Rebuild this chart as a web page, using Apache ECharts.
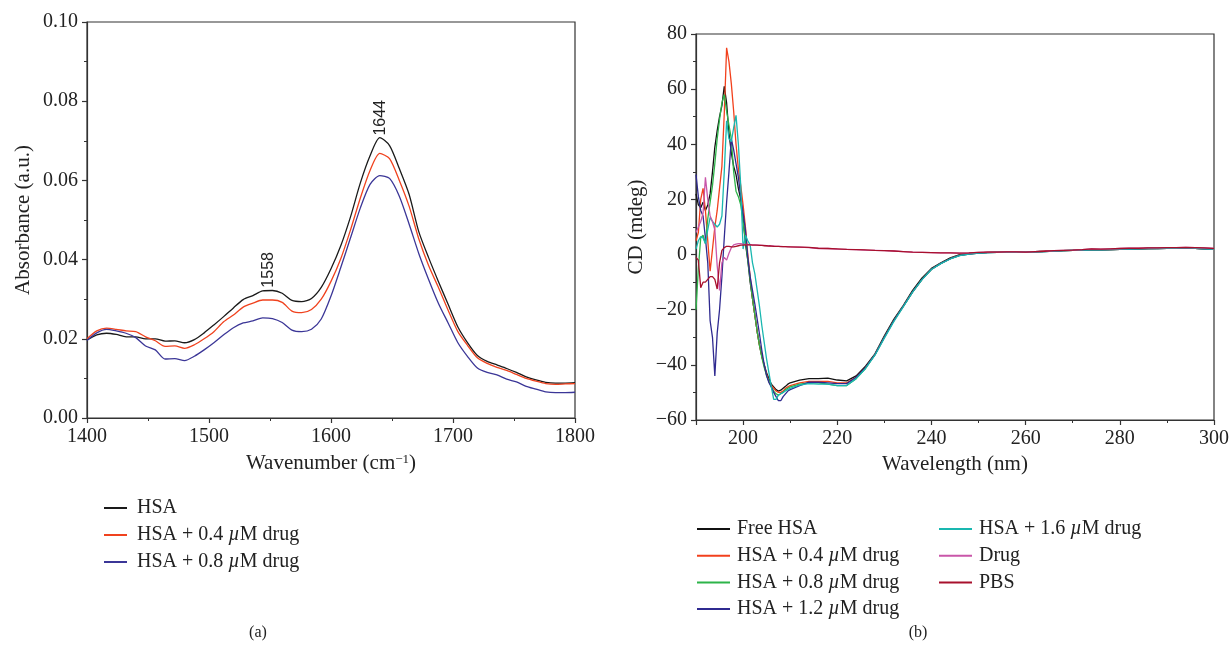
<!DOCTYPE html>
<html>
<head>
<meta charset="UTF-8">
<title>FTIR and CD spectra</title>
<script src="https://cdn.jsdelivr.net/npm/echarts@6/dist/echarts.min.js"></script>
<style>
html,body{margin:0;padding:0;background:#fff;}
#chart{width:1232px;height:648px;}
</style>
</head>
<body>
<div id="chart"></div>
<script type="text/javascript">
// (a) FTIR, amide region
var ftirWavenumber = [1400,1408,1416,1424,1432,1440,1448,1456,1464,1472,1480,1488,1496,1504,1512,1520,1528,1536,1544,1552,1560,1568,1576,1584,1592,1600,1608,1616,1624,1632,1640,1648,1656,1664,1672,1680,1688,1696,1704,1712,1720,1728,1736,1744,1752,1760,1768,1776,1784,1792,1800];
var ftirHSA = [0.0197,0.0210,0.0214,0.0211,0.0205,0.0205,0.0200,0.0200,0.0194,0.0195,0.0190,0.0198,0.0215,0.0235,0.0256,0.0278,0.0299,0.0309,0.0321,0.0322,0.0315,0.0297,0.0294,0.0302,0.0330,0.0377,0.0435,0.0508,0.0593,0.0662,0.0708,0.0688,0.0630,0.0565,0.0470,0.0405,0.0345,0.0287,0.0230,0.0190,0.0158,0.0143,0.0134,0.0125,0.0115,0.0104,0.0096,0.0090,0.0088,0.0088,0.0089];
var ftirHSA04 = [0.0200,0.0220,0.0227,0.0224,0.0220,0.0218,0.0205,0.0195,0.0181,0.0182,0.0176,0.0185,0.0200,0.0218,0.0243,0.0260,0.0280,0.0290,0.0298,0.0298,0.0292,0.0270,0.0266,0.0274,0.0300,0.0345,0.0402,0.0475,0.0555,0.0625,0.0668,0.0655,0.0600,0.0535,0.0452,0.0385,0.0330,0.0272,0.0218,0.0183,0.0152,0.0138,0.0128,0.0120,0.0110,0.0100,0.0093,0.0087,0.0085,0.0086,0.0087];
var ftirHSA08 = [0.0196,0.0215,0.0224,0.0220,0.0214,0.0203,0.0182,0.0172,0.0149,0.0150,0.0145,0.0156,0.0172,0.0190,0.0210,0.0228,0.0240,0.0245,0.0253,0.0251,0.0241,0.0222,0.0218,0.0224,0.0250,0.0308,0.0380,0.0455,0.0530,0.0590,0.0612,0.0605,0.0560,0.0490,0.0415,0.0350,0.0290,0.0240,0.0190,0.0155,0.0126,0.0115,0.0109,0.0098,0.0091,0.0080,0.0073,0.0066,0.0064,0.0064,0.0065];
var ftirPeakText = ['1558','1644'];
var ftirPeakX = [1549,1641];

// (b) CD spectra
var cdWavelength = [190,190.5,191,191.5,192,192.5,193,193.5,194,194.5,195,195.5,196,196.5,197,197.5,198,198.5,199,199.5,200,200.5,201,201.5,202,202.5,203,203.5,204,204.5,205,205.5,206,206.5,207,207.5,208,208.5,209,209.5,210,
  212,214,216,218,220,222,224,226,228,230,232,234,236,238,240,242,244,246,248,250,252,254,256,258,260,262,264,266,268,270,272,274,276,278,280,282,284,286,288,290,292,294,296,298,300];
var cdFreeHSA = [22,18,17,19,16,18,22,30,39,45,50,54,61,55,44,37,32,29,24,20,13,4,-2,-10,-16,-22,-28,-33,-37,-40,-43,-45,-47,-48,-49,-49.5,-49.2,-48.5,-47.8,-47,-46.5,
  -45.5,-45,-45,-44.8,-45.5,-45.8,-44,-40.5,-36,-29.5,-23.5,-18.5,-13,-8.5,-5,-3,-1.2,0,0.4,0.6,0.8,0.9,0.9,0.9,1,1.1,1.2,1.3,1.4,1.5,1.6,1.8,1.7,1.8,1.9,2.0,2.1,2.2,2.3,2.4,2.3,2.4,2.3,2.1,1.9];
var cdHSA04 = [5,8,20,24,16,5,-6,2,10,16,24,32,51,75,70,62,52,40,31,25,18,10,0,-8,-16,-22,-28,-33,-37,-40.5,-43.5,-46,-47.5,-48.5,-49.5,-50,-50,-49.5,-48.5,-48,-47.5,
  -46.5,-46,-46,-46,-46.5,-46.5,-44.5,-41,-36.3,-30,-24,-18.8,-13.5,-9,-5.3,-3.2,-1.5,-0.2,0.3,0.6,0.8,0.8,0.9,0.9,1,1,1.2,1.3,1.4,1.5,1.6,1.7,1.7,1.8,1.9,2.0,2.1,2.2,2.2,2.3,2.3,2.4,2.3,2.1,1.9];
var cdHSA08 = [-20,-5,6,7,4,13,19,25,33,42,49,55,58,52,47,42,30,23,21,18,12,5,-2,-9,-16,-22,-28,-33,-37.5,-41,-44,-46,-48,-49.5,-50.5,-51,-50.5,-50,-49,-48.5,-48,
  -47,-46.5,-46.5,-47,-47.5,-47.5,-45,-41.3,-36.3,-30,-24,-18.8,-13.5,-9,-5.3,-3.2,-1.5,-0.3,0.2,0.5,0.7,0.8,0.8,0.8,0.9,1,1.1,1.3,1.4,1.5,1.6,1.7,1.7,1.8,1.9,2.0,2.1,2.2,2.2,2.3,2.3,2.4,2.3,2.1,1.9];
var cdHSA12 = [29,21,16,14,6,-3,-24,-30,-44,-28.5,-20,-8,6,19,30,42,38,33,28,21,15,9,-1,-8,-13,-18,-23.5,-29,-35,-40,-44,-46.5,-48,-50,-51.5,-53,-53,-51.5,-50.5,-49.5,-49,
  -47.5,-46.3,-46.3,-46.5,-46.8,-46.8,-44.5,-41,-36.3,-30,-24,-18.8,-13.5,-9,-5.3,-3.2,-1.5,-0.3,0.2,0.5,0.7,0.8,0.8,0.8,0.9,1,1.1,1.3,1.4,1.5,1.6,1.7,1.7,1.8,1.9,2.0,2.1,2.2,2.2,2.3,2.3,2.4,2.3,2.1,1.9];
var cdHSA16 = [2,5,6.5,6,4,9,13.5,12,11,10,11,14,30,48.5,42,41,46,50.5,40,25,2,7,5,3.5,-3,-7,-13,-19,-26,-32,-38,-43,-48,-52.5,-52.5,-51,-50.5,-50,-49.5,-49,-48.5,
  -47.3,-46.8,-47,-47,-47.5,-47.5,-45,-41.3,-36.5,-30.3,-24.3,-19,-13.6,-9.1,-5.4,-3.3,-1.6,-0.4,0.2,0.5,0.7,0.8,0.8,0.8,0.9,1,1.1,1.3,1.4,1.5,1.6,1.7,1.7,1.8,1.9,2.0,2.1,2.2,2.2,2.3,2.3,2.4,2.3,2.1,1.9];
var cdDrug = [8,10,12,15,28,20,14,12,9,-4,-13,-3,-1,-2,0.5,2.5,3.5,3.8,4,4,3.8,3.7,3.6,3.6,3.5,3.5,3.4,3.4,3.3,3.3,3.2,3.2,3.1,3.1,3.0,3.0,3.0,2.9,2.9,2.9,2.8,
  2.7,2.5,2.2,2.2,2.0,1.9,1.8,1.6,1.5,1.4,1.3,1.1,0.9,0.8,0.7,0.6,0.6,0.5,0.6,0.8,0.9,0.9,1,1,0.9,1.1,1.2,1.4,1.5,1.6,1.8,2.1,2.0,2.1,2.2,2.3,2.3,2.4,2.4,2.5,2.5,2.6,2.5,2.4,2.2];
var cdPBS = [-1,-2,-12,-10,-10,-9,-8,-8,-9,-12.5,-3,1.5,2.5,3,3,2.8,2.8,3,3.2,3.4,3.4,3.5,3.5,3.5,3.4,3.4,3.4,3.3,3.3,3.2,3.2,3.1,3.1,3.0,3.0,3.0,2.9,2.9,2.9,2.8,2.8,
  2.7,2.6,2.3,2.2,2.1,1.9,1.8,1.7,1.5,1.4,1.3,1.1,0.9,0.8,0.7,0.6,0.6,0.5,0.6,0.8,0.9,0.9,1,1,0.9,1.1,1.2,1.4,1.5,1.6,1.8,2.1,2.0,2.1,2.2,2.3,2.3,2.4,2.4,2.5,2.5,2.6,2.5,2.4,2.2];

var FONT = '"Liberation Serif", "DejaVu Serif", serif';
var TXT = '#222';

function pairs(xs, ys){
  var out = [];
  for(var i=0;i<xs.length;i++) out.push([xs[i], ys[i]]);
  return out;
}
// value of a curve at x, by linear interpolation between read points
function valueAt(xs, ys, x){
  for(var i=0;i<xs.length-1;i++){
    if(x>=xs[i] && x<=xs[i+1]){
      var t=(x-xs[i])/(xs[i+1]-xs[i]);
      return ys[i]+t*(ys[i+1]-ys[i]);
    }
  }
  return ys[ys.length-1];
}

function axisBase(){
  return {
    axisLine:{show:true,onZero:false,lineStyle:{color:'#333',width:1.2}},
    axisTick:{show:true,inside:false,length:5,lineStyle:{color:'#333',width:1.2}},
    minorTick:{show:true,splitNumber:2,length:3,lineStyle:{color:'#333',width:1}},
    splitLine:{show:false},
    axisLabel:{fontFamily:FONT,fontSize:20,color:TXT,margin:9},
    nameTextStyle:{fontFamily:FONT,fontSize:21,color:TXT}
  };
}
function ax(extra){
  var a = axisBase();
  for(var k in extra){
    if(typeof extra[k]==='object' && a[k] && !Array.isArray(extra[k])){
      for(var kk in extra[k]) a[k][kk]=extra[k][kk];
    } else a[k]=extra[k];
  }
  return a;
}
function muFormatter(name){ return name.replace('µ','{mu|µ}'); }
function legendText(padLeft){
  return {fontFamily:FONT,fontSize:20,color:TXT,padding:[0,0,0,padLeft],
          rich:{mu:{fontFamily:FONT,fontSize:20,fontStyle:'italic',color:TXT}}};
}

function line(name, xs, ys, color, xi, extra){
  var s = {
    name:name, type:'line', xAxisIndex:xi, yAxisIndex:xi,
    data:pairs(xs, ys), symbol:'none', showSymbol:false,
    lineStyle:{color:color,width:1.3}, itemStyle:{color:color},
    emphasis:{disabled:true}, smooth: xi===0 ? 0.25 : false
  };
  if(extra) for(var k in extra) s[k]=extra[k];
  return s;
}

var peakMarks = {
  symbol:'circle', symbolSize:0, silent:true,
  label:{show:true, formatter:function(p){return p.name;}, rotate:90, position:'top', distance:3,
         align:'left', verticalAlign:'middle',
         fontFamily:'"Liberation Sans", Arial, sans-serif', fontSize:16, color:TXT},
  data: ftirPeakText.map(function(t,i){
    return {name:t, coord:[ftirPeakX[i], valueAt(ftirWavenumber, ftirHSA, ftirPeakX[i])]};
  })
};

var mychart = echarts.init(document.getElementById('chart'));
var option = {
  animation:false,
  backgroundColor:'#fff',
  grid:[
    {left:87, right:657, top:22, bottom:230, show:true, borderColor:'#333', borderWidth:1.2, backgroundColor:'transparent'},
    {left:696, right:17, top:34, bottom:228, show:true, borderColor:'#333', borderWidth:1.2, backgroundColor:'transparent'}
  ],
  xAxis:[
    ax({type:'value', gridIndex:0, min:1400, max:1800, interval:100,
        name:'Wavenumber (cm{sup|−1})', nameLocation:'middle', nameGap:35,
        axisLabel:{formatter:function(v){return String(v);}},
        nameTextStyle:{rich:{sup:{fontFamily:FONT,fontSize:13,color:TXT,verticalAlign:'top',lineHeight:13}}}}),
    ax({type:'value', gridIndex:1, min:190, max:300, splitNumber:5,
        name:'Wavelength (nm)', nameLocation:'middle', nameGap:33,
        axisLabel:{formatter:function(v){return v===190?'':String(v);}}})
  ],
  yAxis:[
    ax({type:'value', gridIndex:0, min:0, max:0.1, interval:0.02,
        name:'Absorbance (a.u.)', nameLocation:'middle', nameGap:53,
        axisLabel:{formatter:function(v){return v.toFixed(2);}}}),
    ax({type:'value', gridIndex:1, min:-60, max:80, interval:20,
        name:'CD (mdeg)', nameLocation:'middle', nameGap:49,
        axisLabel:{formatter:function(v){return String(v).replace('-','−');}}})
  ],
  legend:[
    {orient:'vertical', left:99, top:493, icon:'rect', itemWidth:23, itemHeight:2, itemGap:7,
     data:['HSA','HSA + 0.4 µM drug','HSA + 0.8 µM drug'],
     formatter:muFormatter, textStyle:legendText(5), selectedMode:false},
    {orient:'vertical', left:692, top:514, icon:'rect', itemWidth:33, itemHeight:2, itemGap:6.7,
     data:['Free HSA','HSA + 0.4 µM drug ','HSA + 0.8 µM drug ','HSA + 1.2 µM drug'],
     formatter:muFormatter, textStyle:legendText(2), selectedMode:false},
    {orient:'vertical', left:934, top:514, icon:'rect', itemWidth:33, itemHeight:2, itemGap:6.7,
     data:['HSA + 1.6 µM drug','Drug','PBS'],
     formatter:muFormatter, textStyle:legendText(2), selectedMode:false}
  ],
  graphic:[
    {type:'text', x:258, y:633, style:{text:'(a)', align:'center', verticalAlign:'middle', font:'16px "Liberation Serif"', fill:TXT}},
    {type:'text', x:918, y:633, style:{text:'(b)', align:'center', verticalAlign:'middle', font:'16px "Liberation Serif"', fill:TXT}}
  ],
  series:[
    line('HSA', ftirWavenumber, ftirHSA, '#1a1a1a', 0, {markPoint:peakMarks}),
    line('HSA + 0.4 µM drug', ftirWavenumber, ftirHSA04, '#f0421e', 0),
    line('HSA + 0.8 µM drug', ftirWavenumber, ftirHSA08, '#3b3697', 0),
    line('Free HSA', cdWavelength, cdFreeHSA, '#111111', 1),
    line('HSA + 0.4 µM drug ', cdWavelength, cdHSA04, '#f2401c', 1),
    line('HSA + 0.8 µM drug ', cdWavelength, cdHSA08, '#2db449', 1),
    line('HSA + 1.2 µM drug', cdWavelength, cdHSA12, '#2f2a90', 1),
    line('HSA + 1.6 µM drug', cdWavelength, cdHSA16, '#19b7b0', 1),
    line('Drug', cdWavelength, cdDrug, '#c956a9', 1),
    line('PBS', cdWavelength, cdPBS, '#a8102c', 1)
  ]
};
mychart.setOption(option);
</script>
</body>
</html>
